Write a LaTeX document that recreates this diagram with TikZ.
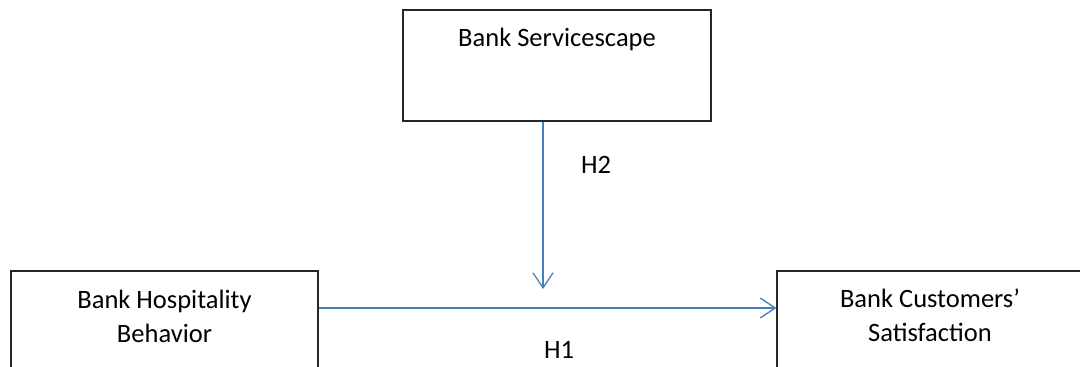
\documentclass[tikz,border=0pt]{standalone}
\usepackage{fontspec}
\setmainfont{Carlito}
\usetikzlibrary{arrows.meta}
\definecolor{arrowblue}{RGB}{74,126,187}
\tikzset{
  box/.style={draw=black!85, line width=1.1pt, rectangle, inner sep=0pt},
  lbl/.style={font=\fontsize{26.5}{34}\selectfont, align=center, anchor=base, inner sep=0pt},
  conn/.style={draw=arrowblue, line width=1.3pt, -{Straight Barb[length=15pt,width=20pt,line width=1.3pt]}}
}
\begin{document}
\begin{tikzpicture}[x=1pt,y=-1pt]
\useasboundingbox (0,0) rectangle (1080,367);
\node[box, minimum width=308pt, minimum height=111pt] (sc) at (557,65.5) {};
\node[box, minimum width=307pt, minimum height=111pt] (hb) at (164.5,326.5) {};
\node[box, minimum width=310pt, minimum height=111pt] (cs) at (932,326.5) {};
\node[lbl] (sct) at (557,46) {Bank Servicescape};
\node[lbl] (hbt) at (164.5,342) {Bank Hospitality\\Behavior};
\node[lbl] (cst) at (930,341.5) {Bank Customers’\\Satisfaction};
\coordinate (vx) at (543,0);
\coordinate (hy) at (0,308);
\coordinate (tip) at (543,289);
\draw[conn] (sc.south -| vx) -- (tip);
\draw[conn] (hb.east |- hy) -- (cs.west |- hy);
\node[lbl] (h2) at (596,173) {H2};
\node[lbl] (h1) at (559,358) {H1};
\end{tikzpicture}
\end{document}
